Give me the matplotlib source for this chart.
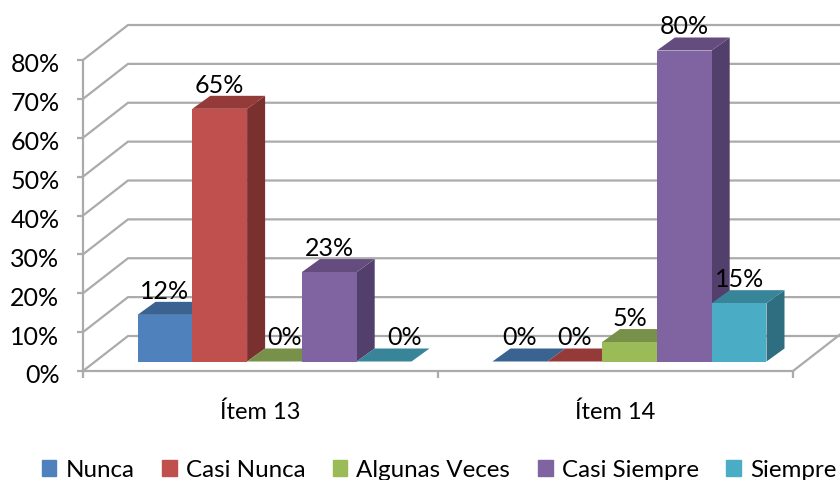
import matplotlib
matplotlib.use('Agg')
import matplotlib.pyplot as plt
from matplotlib.patches import Patch
from matplotlib.transforms import ScaledTranslation

plt.rcParams['font.family'] = ['Lato', 'DejaVu Sans']

categories = ['Ítem 13', 'Ítem 14']
series = ['Nunca', 'Casi Nunca', 'Algunas Veces', 'Casi Siempre', 'Siempre']
nunca = [12, 0]
casi_nunca = [65, 0]
algunas_veces = [0, 5]
casi_siempre = [23, 80]
siempre = [0, 15]
values = [nunca, casi_nunca, algunas_veces, casi_siempre, siempre]
yticks = [0, 10, 20, 30, 40, 50, 60, 70, 80]

front_col = ['#4F81BD', '#C0504D', '#9BBB59', '#8064A2', '#4BACC6']
top_col = ['#3A6391', '#943B39', '#77904A', '#644D7E', '#388499']
side_col = ['#2F5378', '#7A302E', '#627A3C', '#523F6C', '#2F6E80']
grid_col = '#ABABAB'

# pixel sizes of the picture, turned into data units below
px_x = 355.0
px_y = 311 / 80.0

wall_dx = 45 / px_x
wall_dy = 35 / px_y
bar_dx = 18 / px_x
bar_dy = 13 / px_y
floor_y = 9.5 / px_y
bar_w = 54.8 / px_x
bar_off = 54.5 / px_x

fig = plt.figure(figsize=(8.4, 4.81), dpi=100)
ax = fig.add_axes([83 / 840, (481 - 372) / 481, 710 / 840, 311 / 481])
ax.set_xlim(0, 2)
ax.set_ylim(0, 80)
ax.patch.set_visible(False)

for s in ['top', 'right']:
    ax.spines[s].set_visible(False)
for s in ['left', 'bottom']:
    ax.spines[s].set_color(grid_col)
    ax.spines[s].set_linewidth(1.6)

# walls
for v in yticks:
    ax.plot([0, wall_dx, 2.2], [v, v + wall_dy, v + wall_dy], color=grid_col, lw=1.6,
            clip_on=False, zorder=1, solid_joinstyle='miter')
ax.plot([2, 2 + wall_dx + 0.006], [0, wall_dy + 0.4], color=grid_col, lw=1.6, clip_on=False, zorder=1)

# bars, left to right so the later ones cover the earlier ones
label_shift = {(0, 2): 10, (0, 4): 20}
z = 3
for c in range(len(categories)):
    for i in range(len(series)):
        v = values[i][c]
        x0 = c + bar_off + i * bar_w
        x1 = x0 + bar_w
        y0 = floor_y
        y1 = floor_y + v
        ax.fill([x1, x1 + bar_dx, x1 + bar_dx, x1], [y0, y0 + bar_dy, y1 + bar_dy, y1],
                color=side_col[i], lw=0, clip_on=False, zorder=z)
        ax.fill([x0, x1, x1 + bar_dx, x0 + bar_dx], [y1, y1, y1 + bar_dy, y1 + bar_dy],
                color=top_col[i], lw=0, clip_on=False, zorder=z)
        ax.bar(x0, v, bar_w, bottom=floor_y, align='edge', color=front_col[i], lw=0,
               clip_on=False, zorder=z)
        z += 1

# labels on top of everything
for c in range(len(categories)):
    for i in range(len(series)):
        v = values[i][c]
        x = c + bar_off + (i + 0.5) * bar_w
        ax.annotate('%d%%' % v, (x, floor_y + v),
                    xytext=(label_shift.get((c, i), 0) * 0.72, 24.5 * 0.72), textcoords='offset points',
                    ha='center', va='center', fontsize=18, color='black', zorder=100,
                    annotation_clip=False)

ax.set_yticks(yticks, ['%d%%' % v for v in yticks])
ax.tick_params(axis='y', length=4, width=1.6, color=grid_col, labelsize=18, pad=13)
for lab in ax.get_yticklabels():
    lab.set_transform(lab.get_transform() + ScaledTranslation(0, -2 / 100, fig.dpi_scale_trans))
ax.set_xticks([0, 1, 2], ['', '', ''])
ax.set_xticks([0.5, 1.5], categories, minor=True)
ax.tick_params(axis='x', which='major', length=5, width=1.6, color=grid_col)
ax.tick_params(axis='x', which='minor', length=0, labelsize=17, pad=21.5)

handles = [Patch(color=front_col[i], label=series[i]) for i in range(len(series))]
fig.legend(handles=handles, ncol=5, loc='center', bbox_to_anchor=(439 / 840, 1 - 471 / 481),
           frameon=False, fontsize=17.4, handlelength=0.6, handleheight=0.6,
           handletextpad=0.37, columnspacing=1.15, borderpad=0, borderaxespad=0)

fig.savefig('out.png', dpi=100)
